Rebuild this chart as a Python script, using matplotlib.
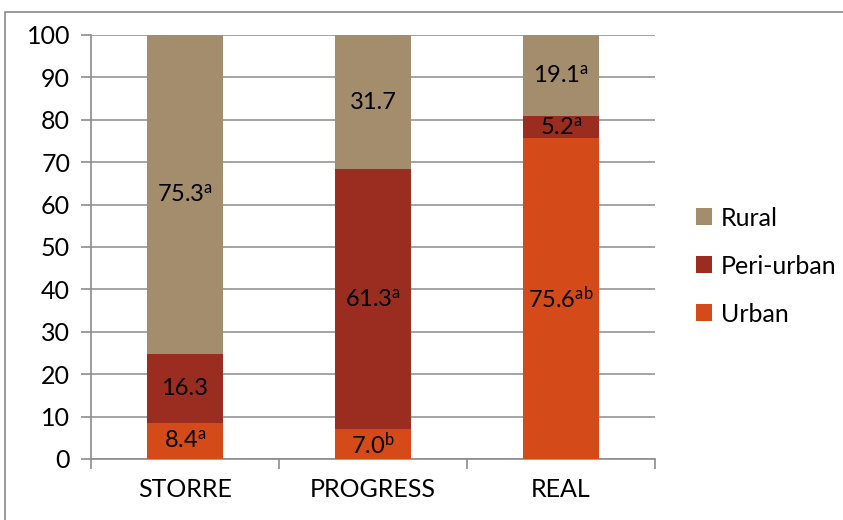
import matplotlib

matplotlib.use("Agg")
import matplotlib.pyplot as plt
from matplotlib.patches import Rectangle

# Share of respondents by area type, per survey
surveys = ["STORRE", "PROGRESS", "REAL"]
urban = [8.4, 7.0, 75.6]
peri_urban = [16.3, 61.3, 5.2]
rural = [75.3, 31.7, 19.1]

urban_sup = ["a", "b", "ab"]
peri_sup = ["", "a", "a"]
rural_sup = ["a", "", "a"]

yticks = list(range(0, 101, 10))

plt.rcParams["font.family"] = ["Lato", "DejaVu Sans"]
plt.rcParams["mathtext.fontset"] = "custom"
plt.rcParams["mathtext.rm"] = "Lato"
plt.rcParams["mathtext.it"] = "Lato"

C_URBAN = "#D44A19"
C_PERI = "#9A2D20"
C_RURAL = "#A48D6C"
GRID = "#8c8c8c"
FS = 18

fig = plt.figure(figsize=(8.43, 5.2), dpi=100)
# chart frame
fig.patches.append(Rectangle((5 / 843, -0.05), 1.0, 1 - 12 / 520 + 0.05,
                             transform=fig.transFigure, fill=False,
                             edgecolor="#8a8a8a", linewidth=1.2))

ax = fig.add_axes([91 / 843, 1 - 459 / 520, (655 - 91) / 843, (459 - 35) / 520])
x = list(range(len(surveys)))
w = 0.4
bottoms_peri = urban
bottoms_rural = [u + p for u, p in zip(urban, peri_urban)]

ax.bar(x, urban, w, color=C_URBAN, label="Urban", zorder=3)
ax.bar(x, peri_urban, w, bottom=bottoms_peri, color=C_PERI, label="Peri-urban", zorder=3)
ax.bar(x, rural, w, bottom=bottoms_rural, color=C_RURAL, label="Rural", zorder=3)


def label(v, sup):
    s = f"{v:.1f}"
    if sup:
        s += r"$^{\mathrm{" + sup + "}}$"
    return s


for i in x:
    segs = [(0, urban[i], urban_sup[i]),
            (bottoms_peri[i], peri_urban[i], peri_sup[i]),
            (bottoms_rural[i], rural[i], rural_sup[i])]
    for b, v, sup in segs:
        ax.text(i, b + v / 2, label(v, sup), ha="center", va="center",
                fontsize=FS - 1, color="black", zorder=4)

ax.set_xlim(-0.5, 2.5)
ax.set_ylim(0, 100)
ax.set_yticks(yticks)
ax.set_yticklabels([str(t) for t in yticks], fontsize=FS)
ax.set_xticks(x)
ax.set_xticklabels(surveys, fontsize=FS)
ax.tick_params(axis="x", length=0, pad=14)
ax.set_xticks([-0.5, 0.5, 1.5, 2.5], minor=True)
ax.tick_params(axis="x", which="minor", length=7, color=GRID, width=1.2)
ax.tick_params(axis="y", length=7, color=GRID, width=1.2, pad=8)
ax.yaxis.grid(True, color=GRID, linewidth=1.1, zorder=0)
ax.set_axisbelow(True)
for side in ("top", "right"):
    ax.spines[side].set_visible(False)
for side in ("left", "bottom"):
    ax.spines[side].set_color(GRID)
    ax.spines[side].set_linewidth(1.2)

handles, labels = ax.get_legend_handles_labels()
ax.legend(handles[::-1], labels[::-1], loc="center left",
          bbox_to_anchor=(1.073, 0.455), frameon=False, fontsize=FS,
          handlelength=0.65, handleheight=0.65, handletextpad=0.35,
          labelspacing=1.0, borderpad=0, borderaxespad=0)

fig.savefig("out.png", dpi=100)
